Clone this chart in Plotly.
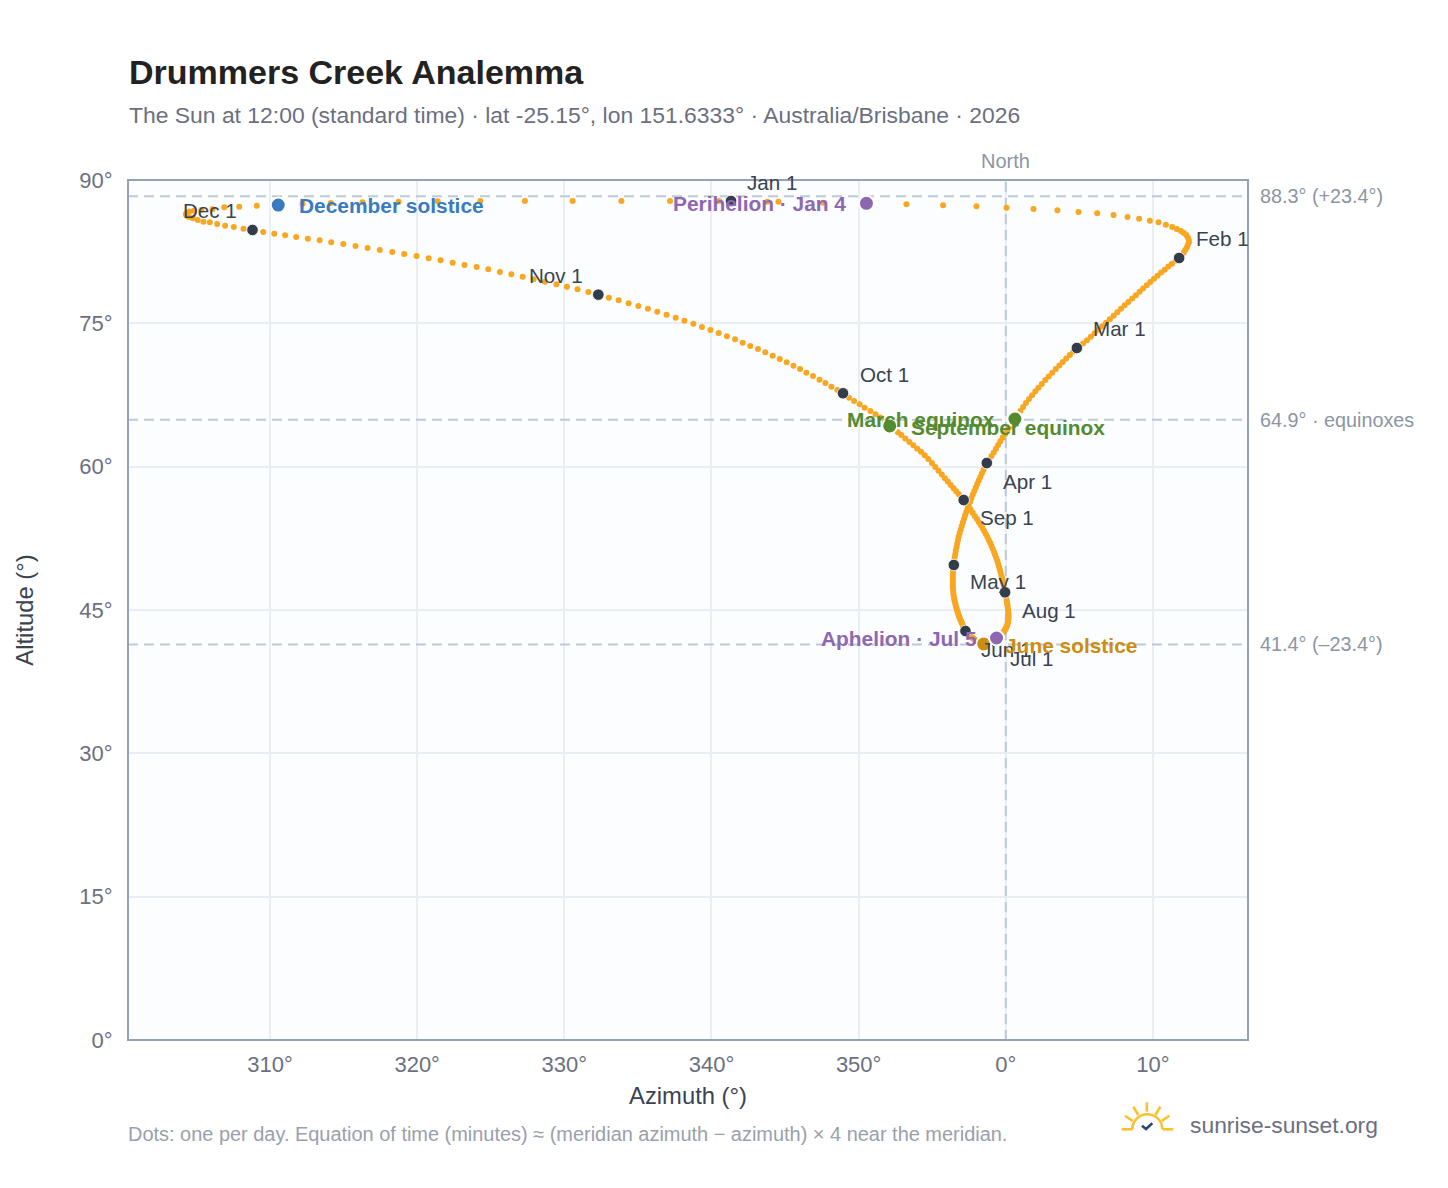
import plotly.graph_objects as go

# Daily solar position at 12:00 (azimuth unwrapped past 360, altitude in degrees)
jan_az = [341.33,344.55,347.58,350.53,353.25,355.74,358.01,360.05,361.88,363.51,364.94,366.21,367.32,368.27,369.06,369.79,370.38,370.88,371.31,371.62,371.90,372.10,372.27,372.37,372.44,372.44,372.37,372.30,372.20,372.10,371.93]
jan_alt = [87.80,87.73,87.62,87.56,87.46,87.35,87.25,87.10,86.97,86.83,86.65,86.52,86.34,86.13,85.95,85.74,85.57,85.32,85.08,84.87,84.66,84.45,84.24,83.98,83.72,83.46,83.20,82.94,82.67,82.41,82.10]
feb_az = [371.78,371.54,371.29,371.05,370.80,370.56,370.31,370.07,369.82,369.58,369.33,369.09,368.84,368.59,368.33,368.08,367.83,367.58,367.33,367.07,366.81,366.55,366.30,366.04,365.78,365.52,365.25,365.03]
feb_alt = [81.84,81.54,81.24,80.94,80.62,80.31,79.98,79.66,79.33,78.99,78.65,78.30,77.94,77.59,77.23,76.88,76.52,76.15,75.79,75.42,75.06,74.69,74.32,73.96,73.59,73.22,72.88,72.65]
mar_az = [364.83,364.59,364.35,364.11,363.87,363.64,363.40,363.16,362.92,362.69,362.45,362.22,362.01,361.79,361.58,361.37,361.18,360.99,360.80,360.62,360.44,360.27,360.11,359.95,359.79,359.63,359.48,359.33,359.18,359.03,358.87]
mar_alt = [72.42,72.05,71.69,71.32,70.95,70.59,70.22,69.83,69.44,69.07,68.65,68.26,67.88,67.48,67.08,66.66,66.24,65.83,65.41,64.99,64.59,64.20,63.82,63.43,63.04,62.65,62.27,61.88,61.49,61.12,60.74]
apr_az = [358.71,358.59,358.48,358.37,358.27,358.16,358.06,357.96,357.86,357.76,357.67,357.59,357.48,357.40,357.31,357.23,357.16,357.08,357.01,356.94,356.87,356.80,356.75,356.70,356.66,356.60,356.57,356.53,356.50,356.48]
apr_alt = [60.38,60.02,59.65,59.29,58.92,58.55,58.19,57.82,57.45,57.09,56.72,56.36,55.99,55.62,55.26,54.89,54.52,54.16,53.79,53.43,53.06,52.69,52.33,51.96,51.59,51.23,50.86,50.55,50.23,49.97]
may_az = [356.47,356.44,356.42,356.41,356.40,356.40,356.40,356.40,356.40,356.42,356.43,356.45,356.47,356.50,356.53,356.57,356.60,356.64,356.67,356.71,356.75,356.79,356.83,356.87,356.92,356.96,357.01,357.06,357.10,357.14,357.21]
may_alt = [49.71,49.40,49.08,48.79,48.50,48.21,47.93,47.65,47.38,47.11,46.85,46.60,46.36,46.13,45.90,45.68,45.47,45.26,45.05,44.86,44.69,44.50,44.32,44.14,43.97,43.81,43.64,43.47,43.31,43.14,42.97]
jun_az = [357.26,357.32,357.38,357.44,357.51,357.57,357.63,357.69,357.75,357.81,357.87,357.93,357.99,358.06,358.12,358.18,358.24,358.30,358.36,358.43,358.50,358.57,358.64,358.69,358.75,358.80,358.85,358.90,358.94,358.98]
jun_alt = [42.80,42.70,42.59,42.49,42.39,42.30,42.22,42.13,42.06,41.99,41.91,41.85,41.79,41.74,41.68,41.63,41.59,41.55,41.52,41.48,41.45,41.45,41.46,41.48,41.52,41.55,41.59,41.63,41.67,41.73]
jul_az = [359.02,359.11,359.20,359.29,359.37,359.46,359.54,359.61,359.69,359.76,359.82,359.87,359.93,359.97,360.01,360.05,360.09,360.12,360.14,360.16,360.17,360.18,360.18,360.17,360.16,360.14,360.12,360.09,360.06,360.03,359.99]
jul_alt = [41.78,41.86,41.93,42.00,42.07,42.15,42.25,42.34,42.44,42.53,42.64,42.75,42.87,42.99,43.12,43.25,43.40,43.56,43.72,43.90,44.09,44.29,44.50,44.72,44.95,45.19,45.44,45.70,45.97,46.26,46.57]
aug_az = [359.95,359.92,359.88,359.84,359.80,359.75,359.70,359.65,359.59,359.54,359.48,359.42,359.35,359.27,359.20,359.12,359.03,358.95,358.84,358.75,358.64,358.53,358.42,358.29,358.16,358.04,357.89,357.75,357.60,357.45,357.29]
aug_alt = [46.85,47.14,47.43,47.72,48.01,48.32,48.62,48.93,49.23,49.53,49.83,50.15,50.46,50.77,51.08,51.38,51.70,52.01,52.33,52.64,52.95,53.27,53.58,53.90,54.21,54.52,54.85,55.18,55.52,55.85,56.19]
sep_az = [357.14,356.98,356.81,356.63,356.45,356.26,356.06,355.86,355.65,355.43,355.21,354.98,354.74,354.49,354.24,353.98,353.72,353.45,353.17,352.90,352.66,352.39,352.11,351.79,351.47,351.15,350.80,350.41,350.07,349.69,349.35]
sep_alt = [56.51,56.81,57.11,57.42,57.75,58.08,58.44,58.79,59.17,59.56,59.97,60.38,60.80,61.20,61.55,61.88,62.23,62.58,62.95,63.31,63.60,63.94,64.26,64.71,65.15,65.48,65.83,66.17,66.53,66.87,67.22]
oct_az = [348.94,348.56,348.15,347.74,347.34,346.90,346.45,346.02,345.57,345.11,344.64,344.16,343.66,343.16,342.64,342.12,341.60,341.05,340.49,339.93,339.35,338.77,338.16,337.57,336.95,336.32,335.68,335.03,334.37,333.69,333.03]
oct_alt = [67.68,68.02,68.37,68.76,69.10,69.49,69.83,70.22,70.57,70.92,71.27,71.61,71.97,72.31,72.63,72.97,73.33,73.64,73.99,74.30,74.62,74.96,75.28,75.59,75.90,76.22,76.53,76.81,77.10,77.41,77.68]
nov_az = [332.31,331.63,330.90,330.18,329.46,328.68,327.91,327.17,326.40,325.62,324.83,324.04,323.22,322.41,321.59,320.78,319.96,319.12,318.31,317.46,316.63,315.81,314.98,314.16,313.37,312.57,311.78,311.03,310.29,309.54]
nov_alt = [78.00,78.28,78.56,78.83,79.08,79.36,79.61,79.88,80.13,80.37,80.65,80.90,81.10,81.35,81.60,81.81,82.05,82.26,82.47,82.67,82.88,83.09,83.30,83.48,83.69,83.86,84.03,84.21,84.38,84.56]
dec_az = [308.81,308.20,307.54,306.95,306.41,305.91,305.48,305.09,304.75,304.49,304.32,304.28,304.35,304.53,304.83,305.34,306.09,306.89,307.91,309.10,310.56,312.21,314.13,316.29,318.74,321.39,324.29,327.32,330.56,333.88,337.18,340.51,343.80]
dec_alt = [84.77,84.90,85.08,85.22,85.40,85.57,85.64,85.81,85.99,86.13,86.28,86.44,86.58,86.70,86.79,86.86,86.93,87.14,87.21,87.31,87.38,87.52,87.59,87.67,87.73,87.77,87.80,87.80,87.80,87.80,87.80,87.80,87.73]

month_names = ["Jan 1","Feb 1","Mar 1","Apr 1","May 1","Jun 1","Jul 1","Aug 1","Sep 1","Oct 1","Nov 1","Dec 1"]

az_ticks = [310,320,330,340,350,360,370]
az_tick_labels = ["310°","320°","330°","340°","350°","0°","10°"]
alt_ticks = [0,15,30,45,60,75,90]
alt_tick_labels = ["0°","15°","30°","45°","60°","75°","90°"]
ref_altitudes = [88.3,64.9,41.4]
ref_labels = ["88.3° (+23.4°)","64.9° · equinoxes","41.4° (–23.4°)"]

ORANGE="#f9a620"; DARK="#333c4b"; BLUE="#3a7abf"; PURPLE="#8e67b3"; GREEN="#558b2f"; GOLD="#cc8d10"
FONT="Liberation Sans"
W,H=1448,1188
L,R,T,B=128,1248,180,1040
AZ_RANGE=[300.35,376.46]

months_az=[jan_az,feb_az,mar_az,apr_az,may_az,jun_az,jul_az,aug_az,sep_az,oct_az,nov_az,dec_az]
months_alt=[jan_alt,feb_alt,mar_alt,apr_alt,may_alt,jun_alt,jul_alt,aug_alt,sep_alt,oct_alt,nov_alt,dec_alt]
all_az=[v for m in months_az for v in m]
all_alt=[v for m in months_alt for v in m]

def px(x): return (x-L)/(R-L)
def py(y): return (B-y)/(B-T)

fig=go.Figure()
fig.add_trace(go.Scatter(x=all_az,y=all_alt,mode="markers",marker=dict(size=6,color=ORANGE),hoverinfo="skip"))
fig.add_trace(go.Scatter(x=[m[0] for m in months_az],y=[m[0] for m in months_alt],mode="markers",
    marker=dict(size=11.5,color=DARK,line=dict(color="#ffffff",width=0.8)),hoverinfo="skip"))

specials=[
 ("December solstice",dec_az[20],dec_alt[20],BLUE,"left",0),
 ("June solstice",jun_az[20],jun_alt[20],GOLD,"left",-1.5),
 ("March equinox",mar_az[19],mar_alt[19],GREEN,"right",-0.5),
 ("September equinox",sep_az[22],sep_alt[22],GREEN,"left",-1.5),
 ("Perihelion · Jan 4",jan_az[3],jan_alt[3],PURPLE,"right",0),
 ("Aphelion · Jul 5",jul_az[4],jul_alt[4],PURPLE,"right",0),
]
anns=[]
for name,a,h,c,side,dy in specials:
    fig.add_trace(go.Scatter(x=[a],y=[h],mode="markers",marker=dict(size=15,color=c,line=dict(color="#ffffff",width=2)),hoverinfo="skip"))
    anns.append(dict(x=a,y=h,xref="x",yref="y",text=f"<b>{name}</b>",showarrow=False,
        xanchor=side,yanchor="middle",xshift=(19 if side=="left" else -18),yshift=dy,
        font=dict(family=FONT,size=20.9,color=c)))

label_shift=[(41,19),(43,19),(43,19),(41,-18),(44,-17),(41,-18),(41,-18),(44,-18),(43,-17),(41,19),(-42,19),(-42,19)]
for name,ma,mh,(dx,dy) in zip(month_names,months_az,months_alt,label_shift):
    anns.insert(0,dict(x=ma[0],y=mh[0],xref="x",yref="y",text=name,showarrow=False,xanchor="center",yanchor="middle",
        xshift=dx,yshift=dy,font=dict(family=FONT,size=20.6,color="#3a4350")))

for v,t in zip(ref_altitudes,ref_labels):
    anns.append(dict(x=px(1258),y=v,xref="paper",yref="y",text=t,showarrow=False,xanchor="left",yanchor="middle",
        font=dict(family=FONT,size=19.8,color="#8b96a3")))
anns.append(dict(x=360,y=py(161),xref="x",yref="paper",text="North",showarrow=False,xanchor="center",yanchor="middle",
    font=dict(family=FONT,size=20,color="#8b96a3")))
anns.append(dict(x=px(127),y=py(115),xref="paper",yref="paper",text="The Sun at 12:00 (standard time) · lat -25.15°, lon 151.6333° · Australia/Brisbane · 2026",
    showarrow=False,xanchor="left",yanchor="middle",font=dict(family=FONT,size=22.9,color="#6b6f80")))
anns.append(dict(x=px(126),y=py(1134),xref="paper",yref="paper",text="Dots: one per day. Equation of time (minutes) ≈ (meridian azimuth − azimuth) × 4 near the meridian.",
    showarrow=False,xanchor="left",yanchor="middle",font=dict(family=FONT,size=19.95,color="#98a1ab")))
anns.append(dict(x=px(1188),y=py(1125),xref="paper",yref="paper",text="sunrise-sunset.org",showarrow=False,xanchor="left",yanchor="middle",
    font=dict(family=FONT,size=22.85,color="#6b6f80")))

shapes=[]
for v in ref_altitudes:
    shapes.append(dict(type="line",xref="x",yref="y",x0=AZ_RANGE[0],x1=AZ_RANGE[1],y0=v,y1=v,layer="between",line=dict(color="#bccad8",width=2,dash="10px,6px")))
shapes.append(dict(type="line",xref="x",yref="y",x0=360,x1=360,y0=0,y1=90,layer="between",line=dict(color="#bccad8",width=2,dash="10px,6px")))
shapes.append(dict(type="rect",xref="paper",yref="paper",x0=0,x1=1,y0=0,y1=1,layer="above",line=dict(color="#94a3b4",width=2)))

SUN="#fbc02d"; CHECK="#2c4a6e"
def seg(pts,color,w=2.6):
    d="M "+" L ".join(f"{px(x)} {py(y)}" for x,y in pts)
    return dict(type="path",xref="paper",yref="paper",path=d,line=dict(color=color,width=w),layer="above")
logo=[[(1121.7,1129.3),(1132.7,1129.3)],[(1162.7,1129.3),(1173.3,1129.3)],
      [(1146.9,1102.3),(1146.9,1111.7)],[(1133.3,1106.7),(1138.3,1115)],[(1160.3,1106.7),(1155.5,1115)],
      [(1125,1115.7),(1132.7,1121)],[(1169.3,1115.7),(1161.7,1121)]]
for s in logo: shapes.append(seg(s,SUN))
cx,cy,r=1147.3,1129.3,15
k=0.5523*r
shapes.append(dict(type="path",xref="paper",yref="paper",layer="above",line=dict(color=SUN,width=2.6),
    path=f"M {px(cx-r)} {py(cy)} C {px(cx-r)} {py(cy-k)} {px(cx-k)} {py(cy-r)} {px(cx)} {py(cy-r)} C {px(cx+k)} {py(cy-r)} {px(cx+r)} {py(cy-k)} {px(cx+r)} {py(cy)}"))
shapes.append(seg([(1142,1125.7),(1146,1129),(1152.3,1123.3)],CHECK))

axis=dict(showline=False,showgrid=True,gridcolor="#e9eef4",gridwidth=2,zeroline=False,
    tickfont=dict(family=FONT,size=22,color="#6b6f80"),ticks="outside",tickcolor="rgba(0,0,0,0)",tickwidth=1)
fig.update_layout(
    width=W,height=H,autosize=False,showlegend=False,
    margin=dict(l=L,r=W-R,t=T,b=H-B,pad=0),
    paper_bgcolor="#ffffff",plot_bgcolor="#fbfdff",
    title=dict(text="<b>Drummers Creek Analemma</b>",x=129/W,xanchor="left",y=1-72/H,yanchor="middle",font=dict(family=FONT,size=34,color="#222222")),
    xaxis=dict(axis,range=AZ_RANGE,tickvals=az_ticks,ticktext=az_tick_labels,ticklen=5,
        title=dict(text="Azimuth (°)",font=dict(family=FONT,size=23.8,color="#3a4350"),standoff=10)),
    yaxis=dict(axis,range=[0,90],tickvals=alt_ticks,ticktext=alt_tick_labels,ticklen=10,
        title=dict(text="Altitude (°)",font=dict(family=FONT,size=23.8,color="#3a4350"),standoff=38)),
    annotations=anns,shapes=shapes,font=dict(family=FONT))
fig.write_html("out.html",config={"displayModeBar":False},post_script="document.body.style.margin='0';document.body.style.overflow='hidden';")
